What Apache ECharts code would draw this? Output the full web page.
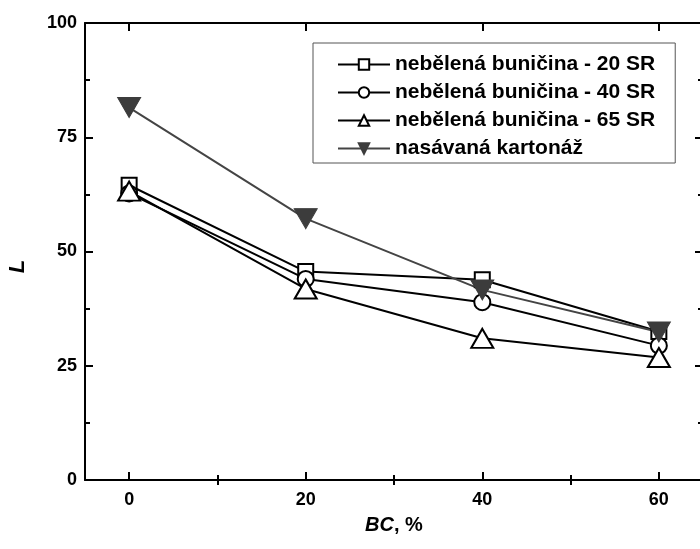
<!DOCTYPE html>
<html lang="cs">
<head>
<meta charset="UTF-8">
<title>L vs BC</title>
<script src="https://cdn.jsdelivr.net/npm/echarts@6/dist/echarts.min.js"></script>
<style>
  html, body { margin: 0; padding: 0; overflow: hidden; background: #fff; }
  #main { width: 710px; height: 549px; }
</style>
</head>
<body>
<div id="main"></div>
<script>
// data
var bcPercent = [0, 20, 40, 60];
var sr20 = [64.5, 45.6, 43.8, 32.5];
var sr40 = [62.7, 44.0, 38.9, 29.4];
var sr65 = [63.2, 41.8, 31.0, 26.8];
var kartonaz = [81.5, 57.2, 41.6, 32.4];
var seriesNames = ['nebělená buničina - 20 SR', 'nebělená buničina - 40 SR', 'nebělená buničina - 65 SR', 'nasávaná kartonáž'];
var xTicks = [0, 20, 40, 60];
var xMinorTicks = [10, 30, 50];

var font = '"Liberation Sans", Arial, sans-serif';

function pairs(ys) {
  return bcPercent.map(function (x, i) { return [x, ys[i]]; });
}

function hollow(name, ys, symbol, size) {
  return {
    name: name, type: 'line', data: pairs(ys),
    symbol: symbol, symbolSize: size, showAllSymbol: true,
    lineStyle: { color: '#000', width: 2 },
    itemStyle: { color: '#fff', borderColor: '#000', borderWidth: 2 },
    emphasis: { disabled: true }
  };
}

var myChart = echarts.init(document.getElementById('main'));
myChart.setOption({
  animation: false,
  grid: { left: 85, right: 7, top: 23, bottom: 69, outerBoundsMode: 'none', containLabel: false },
  legend: {
    orient: 'vertical', left: 313, top: 43,
    padding: [11, 20, 4, 24], itemGap: 7,
    itemWidth: 52, itemHeight: 13,
    borderColor: '#555', borderWidth: 1,
    textStyle: { fontFamily: font, fontWeight: 'bold', fontSize: 21, color: '#000' },
    data: seriesNames
  },
  xAxis: [{
    type: 'value', min: -5, max: 65,
    name: '{i|BC}{n|, %}', nameLocation: 'middle', nameGap: 35,
    nameTextStyle: {
      rich: {
        i: { fontFamily: font, fontWeight: 'bold', fontStyle: 'italic', fontSize: 20, color: '#000' },
        n: { fontFamily: font, fontWeight: 'bold', fontSize: 20, color: '#000' }
      }
    },
    axisLine: { onZero: false, lineStyle: { color: '#000', width: 2 } },
    axisTick: { inside: true, length: 8, lineStyle: { width: 2 }, customValues: xTicks },
    axisLabel: { customValues: xTicks, margin: 11, fontFamily: font, fontWeight: 'bold', fontSize: 18, color: '#000' },
    splitLine: { show: false }
  }, {
    type: 'value', min: -5, max: 65, position: 'bottom',
    axisLine: { show: false },
    axisTick: { inside: true, length: 5, lineStyle: { width: 2, color: '#000' }, customValues: xMinorTicks },
    axisLabel: { show: false }, splitLine: { show: false }
  }, {
    type: 'value', min: -5, max: 65, position: 'top',
    axisLine: { onZero: false, lineStyle: { color: '#000', width: 2 } },
    axisTick: { inside: true, length: 8, lineStyle: { width: 2 }, customValues: xTicks },
    axisLabel: { show: false }, splitLine: { show: false }
  }, {
    type: 'value', min: -5, max: 65, position: 'top',
    axisLine: { show: false },
    axisTick: { inside: true, length: 5, lineStyle: { width: 2, color: '#000' }, customValues: xMinorTicks },
    axisLabel: { show: false }, splitLine: { show: false }
  }],
  yAxis: [{
    type: 'value', min: 0, max: 100, interval: 25,
    name: 'L', nameLocation: 'middle', nameGap: 56,
    nameTextStyle: { fontFamily: font, fontWeight: 'bold', fontStyle: 'italic', fontSize: 22, color: '#000', padding: [0, 30, 0, 0] },
    axisLine: { show: true, onZero: false, lineStyle: { color: '#000', width: 2 } },
    axisTick: { inside: true, length: 8, lineStyle: { width: 2 } },
    minorTick: { show: true, splitNumber: 2, length: 5, lineStyle: { color: '#000', width: 2 } },
    axisLabel: { margin: 8, fontFamily: font, fontWeight: 'bold', fontSize: 18, color: '#000' },
    splitLine: { show: false }
  }, {
    type: 'value', min: 0, max: 100, interval: 25, position: 'right',
    axisLine: { show: true, onZero: false, lineStyle: { color: '#000', width: 2 } },
    axisTick: { inside: true, length: 8, lineStyle: { width: 2 } },
    minorTick: { show: true, splitNumber: 2, length: 5, lineStyle: { color: '#000', width: 2 } },
    axisLabel: { show: false }, splitLine: { show: false }
  }],
  series: [
    hollow(seriesNames[0], sr20, 'rect', 15),
    hollow(seriesNames[1], sr40, 'circle', 16),
    hollow(seriesNames[2], sr65, 'triangle', [22, 19]),
    {
      name: seriesNames[3], type: 'line', data: pairs(kartonaz),
      symbol: 'triangle', symbolRotate: 180, symbolSize: [23, 20],
      lineStyle: { color: '#444', width: 2 },
      itemStyle: { color: '#3c3c3c', borderColor: '#3c3c3c', borderWidth: 1 },
      emphasis: { disabled: true }
    }
  ]
});
</script>
</body>
</html>
